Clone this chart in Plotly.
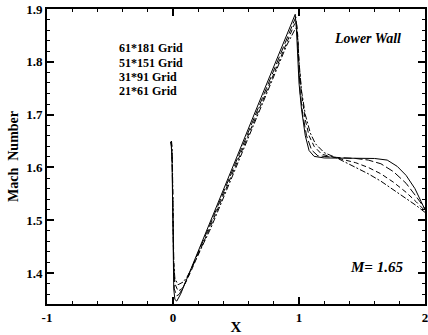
import plotly.graph_objects as go

# Grid-resolution series
x_61 = [-0.02, -0.015, -0.008, -0.003, 0.0, 0.006, 0.015, 0.03, 0.06, 0.1, 0.3, 0.5, 0.7, 0.9, 0.955, 0.97, 0.98, 0.99, 1.0, 1.02, 1.05, 1.08, 1.12, 1.2, 1.4, 1.6, 1.7, 1.78, 1.85, 1.92, 1.97, 2.0]
y_61 = [1.648, 1.645, 1.62, 1.55, 1.45, 1.37, 1.35, 1.347, 1.36, 1.383, 1.499, 1.616, 1.733, 1.849, 1.882, 1.89, 1.86, 1.80, 1.76, 1.71, 1.66, 1.632, 1.621, 1.618, 1.618, 1.617, 1.614, 1.602, 1.585, 1.56, 1.535, 1.52]

x_51 = [-0.018, -0.012, -0.006, -0.002, 0.002, 0.01, 0.03, 0.05, 0.08, 0.12, 0.3, 0.5, 0.7, 0.9, 0.96, 0.975, 0.985, 0.995, 1.01, 1.03, 1.06, 1.1, 1.15, 1.3, 1.45, 1.55, 1.65, 1.75, 1.85, 1.93, 2.0]
y_51 = [1.648, 1.64, 1.6, 1.52, 1.43, 1.37, 1.357, 1.36, 1.373, 1.394, 1.495, 1.611, 1.727, 1.843, 1.877, 1.885, 1.86, 1.80, 1.74, 1.70, 1.66, 1.633, 1.622, 1.619, 1.617, 1.614, 1.607, 1.592, 1.57, 1.545, 1.522]

x_31 = [-0.015, -0.01, -0.005, 0.0, 0.005, 0.015, 0.04, 0.07, 0.1, 0.14, 0.3, 0.5, 0.7, 0.9, 0.965, 0.98, 0.99, 1.0, 1.02, 1.05, 1.08, 1.12, 1.18, 1.3, 1.45, 1.55, 1.65, 1.75, 1.85, 1.93, 2.0]
y_31 = [1.65, 1.64, 1.6, 1.51, 1.42, 1.38, 1.366, 1.37, 1.382, 1.402, 1.49, 1.605, 1.72, 1.835, 1.872, 1.875, 1.85, 1.80, 1.74, 1.69, 1.66, 1.64, 1.625, 1.618, 1.609, 1.6, 1.588, 1.572, 1.553, 1.535, 1.518]

x_21 = [-0.012, -0.008, -0.004, 0.0, 0.005, 0.015, 0.04, 0.08, 0.11, 0.15, 0.3, 0.5, 0.7, 0.9, 0.965, 0.98, 0.99, 1.0, 1.02, 1.05, 1.09, 1.13, 1.2, 1.3, 1.45, 1.55, 1.65, 1.75, 1.85, 1.93, 2.0]
y_21 = [1.65, 1.64, 1.6, 1.5, 1.42, 1.39, 1.378, 1.383, 1.392, 1.41, 1.485, 1.6, 1.715, 1.83, 1.86, 1.865, 1.845, 1.80, 1.745, 1.70, 1.665, 1.645, 1.628, 1.618, 1.6, 1.588, 1.574, 1.558, 1.542, 1.528, 1.515]

legend_labels = ["61*181 Grid", "51*151 Grid", "31*91 Grid", "21*61 Grid"]
x_ticks = [-1, 0, 1, 2]
y_ticks = [1.4, 1.5, 1.6, 1.7, 1.8, 1.9]

series = [(x_61, y_61, "solid"), (x_51, y_51, "8px,3px"), (x_31, y_31, "5px,3px"), (x_21, y_21, "6px,2px,2px,2px")]

fig = go.Figure()
for (xs, ys, dash), name in zip(series, legend_labels):
    fig.add_trace(go.Scatter(x=xs, y=ys, mode="lines", name=name,
                             line=dict(color="black", width=1, dash=dash)))

serif = "Liberation Serif"
axis_common = dict(showgrid=False, zeroline=False, showline=True, linecolor="black", linewidth=2,
                   mirror="ticks", ticks="inside", ticklen=7, tickwidth=1.5, tickcolor="black",
                   automargin=False, ticklabeloverflow="allow",
                   tickfont=dict(family=serif, size=13, color="black", weight="bold"))

fig.update_xaxes(range=[-1, 2], tickvals=x_ticks, ticktext=[str(v) for v in x_ticks],
                 title=dict(text="<b>X</b>", font=dict(family=serif, size=15, color="black"), standoff=0),
                 minor=dict(dtick=0.2, ticks="inside", ticklen=3, tickcolor="black", tickwidth=1),
                 **axis_common)
fig.update_yaxes(range=[1.3415, 1.9], tickvals=y_ticks, ticktext=[f"{v:.1f}" for v in y_ticks],
                 title=dict(text="<b>Mach  Number</b>", font=dict(family=serif, size=14, color="black"), standoff=4),
                 minor=dict(dtick=0.02, ticks="inside", ticklen=3, tickcolor="black", tickwidth=1),
                 **axis_common)

W, H = 428, 335
L, R, T, B = 47, 3, 9, 31
pw, ph = W - L - R, H - T - B
for i, lab in enumerate(legend_labels):
    fig.add_annotation(x=(117 - L) / pw, y=1 - (48 + 14.5 * i - T) / ph, xref="x domain", yref="y domain",
                       text=f"<b>{lab}</b>", showarrow=False, xanchor="left", yanchor="middle",
                       font=dict(family=serif, size=12, color="black"))
fig.add_annotation(x=(403 - L) / pw, y=1 - (38 - T) / ph, xref="x domain", yref="y domain",
                   text="<b><i>Lower Wall</i></b>", showarrow=False, xanchor="right", yanchor="middle",
                   font=dict(family=serif, size=14, color="black"))
fig.add_annotation(x=(376 - L) / pw, y=1 - (267 - T) / ph, xref="x domain", yref="y domain",
                   text="<b><i>M= 1.65</i></b>", showarrow=False, xanchor="center", yanchor="middle",
                   font=dict(family=serif, size=15, color="black"))

fig.update_layout(width=W, height=H, margin=dict(l=L, r=R, t=T, b=B), showlegend=False,
                  paper_bgcolor="white", plot_bgcolor="white")
fig.write_html("out.html", config={"displayModeBar": False},
               post_script="document.body.style.margin='0';document.body.style.overflow='hidden';")
